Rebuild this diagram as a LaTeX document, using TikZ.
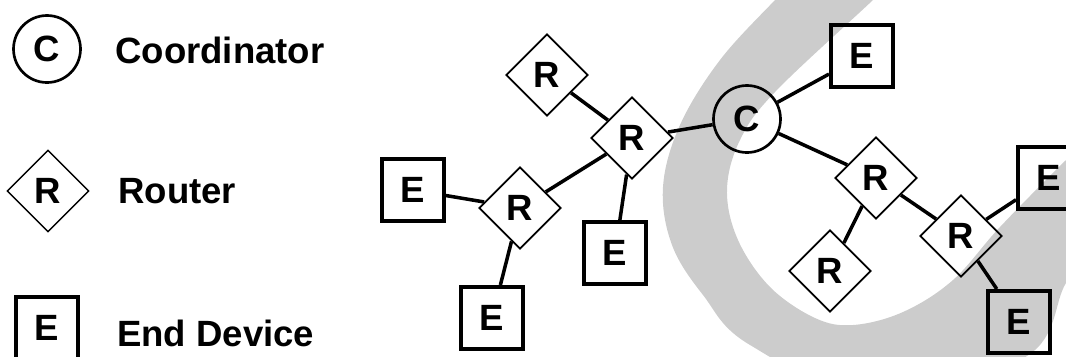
\documentclass[tikz,border=0pt]{standalone}
\usepackage{fontspec}
\setmainfont{Liberation Sans}
\usetikzlibrary{positioning}
\usetikzlibrary{shapes.geometric}

\begin{document}
\begin{tikzpicture}[x=0.25mm, y=-0.25mm, font=\fontsize{26}{30}\selectfont\bfseries]
	\useasboundingbox (0,0) rectangle (1066,356);
	% grey band behind the tree
	\begin{scope}
		\clip (0,0) rectangle (1066,356);
		\fill [black!20] plot [smooth cycle, tension=0.6] coordinates {(800,-25) (775,0) (720,60) (680,125) (663,187) (672,245) (703,295) (750,345) (880,400) (1027,356) (1066,283) (1100,240) (1100,129) (1066,160) (1000,227) (953,280) (903,312) (853,325) (815,318) (770,287) (738,240) (727,190) (740,140) (775,92) (873,0) (898,-25)};
	\end{scope}
	\tikzstyle{coordinator}=[circle, draw, line width=1.9pt, minimum size=16.75mm, inner sep=0pt]
	\tikzstyle{router}=[diamond, draw, line width=1.3pt, minimum width=20.5mm, minimum height=20.5mm, inner sep=0pt]
	\tikzstyle{enddevice}=[rectangle, draw, line width=2.8pt, minimum size=15.5mm, inner sep=0pt]
	\tikzstyle{link}=[line width=2.5pt]
	% legend
	\draw (47,49) node (lc) [coordinator] {C};
	\draw (48,191) node (lr) [router, line width=1pt] {R};
	\draw (47,328) node (le) [enddevice] {E};
	\draw (115,63) node (tc) [anchor=base west, inner sep=0pt] {Coordinator};
	\draw (118,203) node (tr) [anchor=base west, inner sep=0pt] {Router};
	\draw (117,346) node (te) [anchor=base west, inner sep=0pt] {End Device};
	% network
	\draw (747,119) node (c) [coordinator] {C};
	\draw (547,75) node (r1) [router] {R};
	\draw (632,138) node (r2) [router] {R};
	\draw (520,208) node (r3) [router] {R};
	\draw (876,178) node (r4) [router] {R};
	\draw (830,271) node (r5) [router] {R};
	\draw (961,236) node (r6) [router] {R};
	\draw (413,190) node (e1) [enddevice] {E};
	\draw (492,318) node (e2) [enddevice] {E};
	\draw (615,253) node (e3) [enddevice] {E};
	\draw (862,56) node (e4) [enddevice] {E};
	\draw (1049,178) node (e5) [enddevice] {E};
	\draw (1019,322) node (e6) [enddevice] {E};
	\draw [link] (r1) to (r2);
	\draw [link] (r2) to (c);
	\draw [link] (r2) to (r3);
	\draw [link] (r2) to (e3);
	\draw [link] (r3) to (e1);
	\draw [link] (r3) to (e2);
	\draw [link] (c) to (e4);
	\draw [link] (c) to (r4);
	\draw [link] (r4) to (r5);
	\draw [link] (r4) to (r6);
	\draw [link] (r6) to (e5);
	\draw [link] (r6) to (e6);
\end{tikzpicture}
\end{document}
